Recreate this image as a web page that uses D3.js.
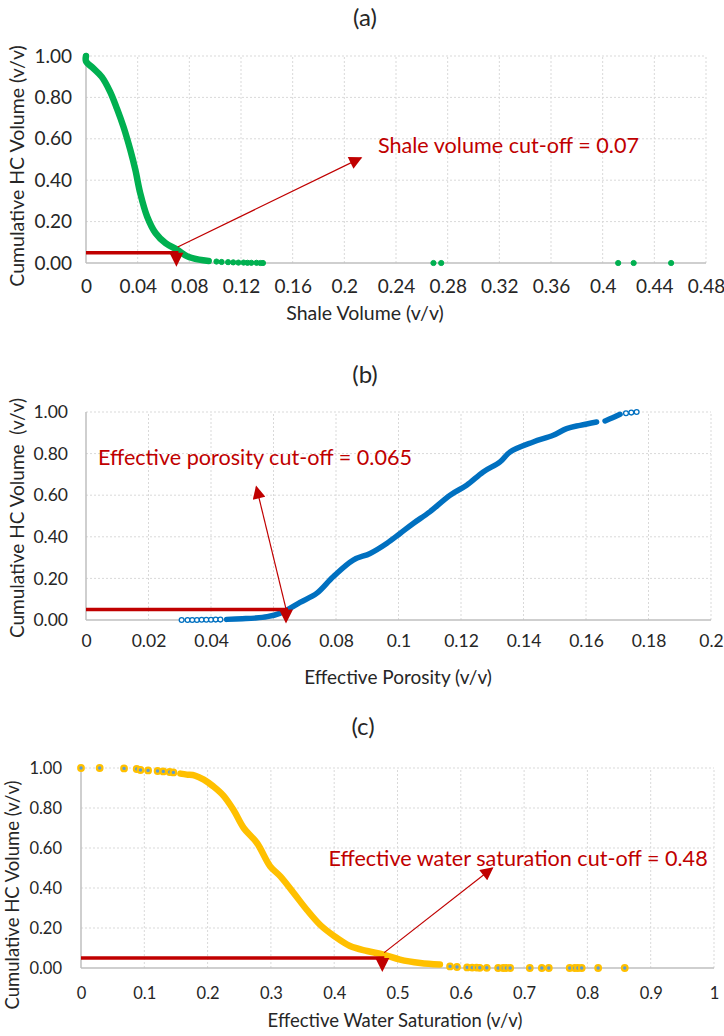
<!DOCTYPE html>
<html>
<head>
<meta charset="utf-8">
<script src="https://cdn.jsdelivr.net/npm/d3@7"></script>
<style>
  body { margin: 0; background: #fff; }
  svg { display: block; font-family: Lato, "Open Sans", sans-serif; }
</style>
</head>
<body>
<div id="chart"></div>
<script>
// (a) shale volume vs cumulative HC volume
const shaleX = [0, 0, 0.0057, 0.0122, 0.0187, 0.0239, 0.029, 0.0343, 0.0382, 0.042, 0.0473, 0.0538, 0.0616, 0.0707, 0.0785, 0.0876, 0.095];
const shaleCum = [1.0, 0.975, 0.94, 0.899, 0.827, 0.747, 0.658, 0.546, 0.45, 0.337, 0.225, 0.145, 0.096, 0.064, 0.032, 0.016, 0.01];
const shaleTailX = [0.101, 0.105, 0.11, 0.114, 0.118, 0.122, 0.125, 0.128, 0.132, 0.135, 0.137, 0.269, 0.275, 0.412, 0.424, 0.453];
const shaleTailCum = [0.007, 0.005, 0.004, 0.003, 0.002, 0.002, 0.001, 0.001, 0.001, 0, 0, 0, 0, 0, 0, 0];
const shaleTicks = [0, 0.04, 0.08, 0.12, 0.16, 0.2, 0.24, 0.28, 0.32, 0.36, 0.4, 0.44, 0.48];

// (b) effective porosity vs cumulative HC volume
const phiHeadX = [0.0306, 0.0325, 0.034, 0.0355, 0.037, 0.0385, 0.04, 0.0415, 0.043];
const phiHeadCum = [0, 0, 0, 0, 0.001, 0.001, 0.001, 0.002, 0.002];
const phiX = [0.045, 0.05, 0.054, 0.058, 0.062, 0.0645, 0.0685, 0.0738, 0.0791, 0.0855, 0.0909, 0.0962, 0.1005, 0.1047, 0.11, 0.1165, 0.1218, 0.1271, 0.1325, 0.1357, 0.1431, 0.1495, 0.1538, 0.1581, 0.1634];
const phiCum = [0.003, 0.006, 0.009, 0.016, 0.032, 0.05, 0.085, 0.128, 0.208, 0.288, 0.32, 0.368, 0.416, 0.464, 0.52, 0.6, 0.648, 0.712, 0.76, 0.808, 0.856, 0.888, 0.92, 0.936, 0.952];
const phiTailX = [0.1661, 0.1685, 0.1709, 0.1728, 0.1745, 0.1762];
const phiTailCum = [0.957, 0.972, 0.989, 0.994, 0.997, 1.0];
const phiTicks = [0, 0.02, 0.04, 0.06, 0.08, 0.1, 0.12, 0.14, 0.16, 0.18, 0.2];

// (c) effective water saturation vs cumulative HC volume
const swTopX = [0, 0.0295, 0.068, 0.088, 0.094, 0.106, 0.121, 0.13, 0.14, 0.146];
const swTopCum = [1, 1, 0.998, 0.995, 0.99, 0.988, 0.985, 0.983, 0.98, 0.978];
const swX = [0.157, 0.167, 0.18, 0.194, 0.209, 0.225, 0.241, 0.257, 0.278, 0.299, 0.315, 0.336, 0.357, 0.378, 0.399, 0.425, 0.452, 0.478, 0.504, 0.536, 0.567];
const swCum = [0.972, 0.967, 0.962, 0.942, 0.908, 0.862, 0.79, 0.7, 0.625, 0.508, 0.458, 0.375, 0.29, 0.215, 0.162, 0.11, 0.085, 0.067, 0.042, 0.025, 0.017];
const swTailX = [0.583, 0.594, 0.61, 0.618, 0.625, 0.63, 0.641, 0.659, 0.667, 0.672, 0.678, 0.709, 0.728, 0.739, 0.772, 0.78, 0.785, 0.791, 0.817, 0.859];
const swTailCum = [0.008, 0.005, 0.003, 0.002, 0.002, 0.001, 0.001, 0, 0, 0, 0, 0, 0, 0, 0, 0, 0, 0, 0, 0];
const swTicks = [0, 0.1, 0.2, 0.3, 0.4, 0.5, 0.6, 0.7, 0.8, 0.9, 1];

const cumTicks = [0, 0.2, 0.4, 0.6, 0.8, 1.0];

const red = "#c00000";
const svg = d3.select("#chart").append("svg")
    .attr("width", 724)
    .attr("height", 1036);

svg.append("defs").append("marker")
    .attr("id", "head")
    .attr("viewBox", "0 0 10 10")
    .attr("refX", 9).attr("refY", 5)
    .attr("markerUnits", "userSpaceOnUse")
    .attr("markerWidth", 14).attr("markerHeight", 13)
    .attr("orient", "auto")
    .append("path")
    .attr("d", "M0,0L10,5L0,10Z")
    .attr("fill", red);

const zip = (xs, ys) => xs.map((v, i) => ({x: v, y: ys[i]}));

function panel(o) {
    const x = d3.scaleLinear().domain([0, o.xMax]).range([o.left, o.right]);
    const y = d3.scaleLinear().domain([0, 1]).range([o.bottom, o.top]);
    const g = svg.append("g");

    // dotted grid
    g.append("g").selectAll("line").data(o.ticks.slice(1)).join("line")
        .attr("x1", d => x(d)).attr("x2", d => x(d))
        .attr("y1", y(0)).attr("y2", y(1))
        .attr("stroke", "#d9d9d9").attr("stroke-dasharray", "2,2");
    g.append("g").selectAll("line").data(cumTicks.slice(1)).join("line")
        .attr("x1", x(0)).attr("x2", x(o.xMax))
        .attr("y1", d => y(d)).attr("y2", d => y(d))
        .attr("stroke", "#d9d9d9").attr("stroke-dasharray", "2,2");

    // axis lines
    g.append("line").attr("x1", x(0)).attr("x2", x(0)).attr("y1", y(0)).attr("y2", y(1))
        .attr("stroke", "#bfbfbf").attr("stroke-width", 1.5);
    g.append("line").attr("x1", x(0)).attr("x2", x(o.xMax)).attr("y1", y(0)).attr("y2", y(0))
        .attr("stroke", "#bfbfbf").attr("stroke-width", 1.5);

    // tick labels
    g.append("g")
        .attr("transform", `translate(0,${y(0) + o.xLabelGap})`)
        .call(d3.axisBottom(x).tickValues(o.ticks).tickFormat(d => String(d)).tickSize(0).tickPadding(0))
        .call(a => a.select(".domain").remove())
        .call(a => a.selectAll("text")
            .attr("font-family", "Lato, sans-serif")
            .attr("font-size", o.tickSize)
            .attr("fill", "#262626")
            .attr("dy", "0.35em"));
    g.append("g")
        .attr("transform", `translate(${x(0) - o.yLabelGap},0)`)
        .call(d3.axisLeft(y).tickValues(cumTicks).tickFormat(d3.format(".2f")).tickSize(0).tickPadding(0))
        .call(a => a.select(".domain").remove())
        .call(a => a.selectAll("text")
            .attr("font-family", "Lato, sans-serif")
            .attr("font-size", o.tickSize)
            .attr("fill", "#262626"));

    // titles
    g.append("text")
        .attr("x", o.titleX).attr("y", o.titleY)
        .attr("text-anchor", "middle").attr("dy", "0.35em")
        .attr("font-size", 24).attr("fill", "#262626")
        .text(o.title);
    g.append("text")
        .attr("x", o.xTitleX).attr("y", o.xTitleY)
        .attr("text-anchor", "middle").attr("dy", "0.35em")
        .attr("font-size", o.axisTitleSize).attr("fill", "#262626")
        .text(o.xTitle);
    g.append("text")
        .attr("transform", `translate(${o.yTitleX},${o.yTitleY}) rotate(-90)`)
        .attr("text-anchor", "middle").attr("dy", "0.35em")
        .attr("font-size", o.axisTitleSize).attr("fill", "#262626")
        .style("white-space", "pre")
        .text(o.yTitle);

    // data: dense part as a thick band, sparse part as markers
    const line = d3.line().x(d => x(d.x)).y(d => y(d.y)).curve(d3.curveCatmullRom.alpha(0.5));
    o.bands.forEach(b => {
        g.append("path")
            .datum(b)
            .attr("fill", "none")
            .attr("stroke", o.color)
            .attr("stroke-width", o.bandWidth)
            .attr("stroke-linejoin", "round")
            .attr("stroke-linecap", "round")
            .attr("d", line);
    });
    g.append("g").selectAll("circle").data(o.points).join("circle")
        .attr("cx", d => x(d.x)).attr("cy", d => y(d.y))
        .attr("r", o.r)
        .attr("fill", o.markerFill)
        .attr("stroke", o.color)
        .attr("stroke-width", o.markerStroke);

    // cut-off annotation
    const ya = y(0.05);
    g.append("line")
        .attr("x1", x(0)).attr("x2", x(o.cut) + 2)
        .attr("y1", ya).attr("y2", ya)
        .attr("stroke", red).attr("stroke-width", 3.5);
    const xc = x(o.cut);
    g.append("path")
        .attr("d", `M${xc - 7},${ya}L${xc + 7},${ya}L${xc},${ya + 14}Z`)
        .attr("fill", red);
    g.append("line")
        .attr("x1", x(o.arrow[0])).attr("y1", y(o.arrow[1]))
        .attr("x2", x(o.arrow[2])).attr("y2", y(o.arrow[3]))
        .attr("stroke", red).attr("stroke-width", 1.2)
        .attr("marker-end", "url(#head)");
    g.append("text")
        .attr("x", x(o.label[0])).attr("y", y(o.label[1]))
        .attr("text-anchor", o.labelAnchor)
        .attr("font-size", 21.6).attr("fill", red)
        .text(o.labelText);
}

panel({
    title: "(a)", titleX: 365, titleY: 18,
    left: 86, right: 706, top: 56, bottom: 263, xMax: 0.48, ticks: shaleTicks,
    xLabelGap: 23, yLabelGap: 14, tickSize: 19, axisTitleSize: 19.5,
    xTitle: "Shale Volume (v/v)", xTitleX: 365, xTitleY: 313,
    yTitle: "Cumulative HC Volume (v/v)", yTitleX: 17, yTitleY: 166,
    color: "#00b050", bandWidth: 6.5, r: 2.6, markerFill: "#00b050", markerStroke: 1,
    bands: [zip(shaleX, shaleCum)],
    points: zip(shaleX.slice(0, 1), shaleCum.slice(0, 1)).concat(zip(shaleTailX, shaleTailCum)),
    cut: 0.07, arrow: [0.071, 0.077, 0.213, 0.508],
    label: [0.226, 0.53], labelAnchor: "start", labelText: "Shale volume cut-off = 0.07"
});

panel({
    title: "(b)", titleX: 365, titleY: 375,
    left: 86, right: 711, top: 412, bottom: 620, xMax: 0.2, ticks: phiTicks,
    xLabelGap: 21, yLabelGap: 18, tickSize: 17.5, axisTitleSize: 19,
    xTitle: "Effective Porosity (v/v)", xTitleX: 398, xTitleY: 677,
    yTitle: "Cumulative HC Volume  (v/v)", yTitleX: 17, yTitleY: 518,
    color: "#0070c0", bandWidth: 5.5, r: 2.4, markerFill: "#ffffff", markerStroke: 1.3,
    bands: [zip(phiX, phiCum), zip(phiTailX.slice(0, 3), phiTailCum.slice(0, 3))],
    points: zip(phiHeadX, phiHeadCum).concat(zip(phiTailX.slice(3), phiTailCum.slice(3))),
    cut: 0.064, arrow: [0.064, 0.054, 0.0545, 0.64],
    label: [0.0038, 0.745], labelAnchor: "start", labelText: "Effective porosity cut-off = 0.065"
});

panel({
    title: "(c)", titleX: 363, titleY: 727,
    left: 81, right: 714, top: 768, bottom: 968, xMax: 1, ticks: swTicks,
    xLabelGap: 25, yLabelGap: 19, tickSize: 16.5, axisTitleSize: 18.5,
    xTitle: "Effective Water Saturation (v/v)", xTitleX: 395, xTitleY: 1021,
    yTitle: "Cumulative HC Volume (v/v)", yTitleX: 13, yTitleY: 895,
    color: "#ffc000", bandWidth: 6.5, r: 2.8, markerFill: "#5b9bd5", markerStroke: 2.2,
    bands: [zip(swX, swCum)],
    points: zip(swTopX, swTopCum).concat(zip(swTailX, swTailCum)),
    cut: 0.476, arrow: [0.479, 0.077, 0.65, 0.5],
    label: [0.99, 0.51], labelAnchor: "end", labelText: "Effective water saturation cut-off = 0.48"
});
</script>
</body>
</html>
